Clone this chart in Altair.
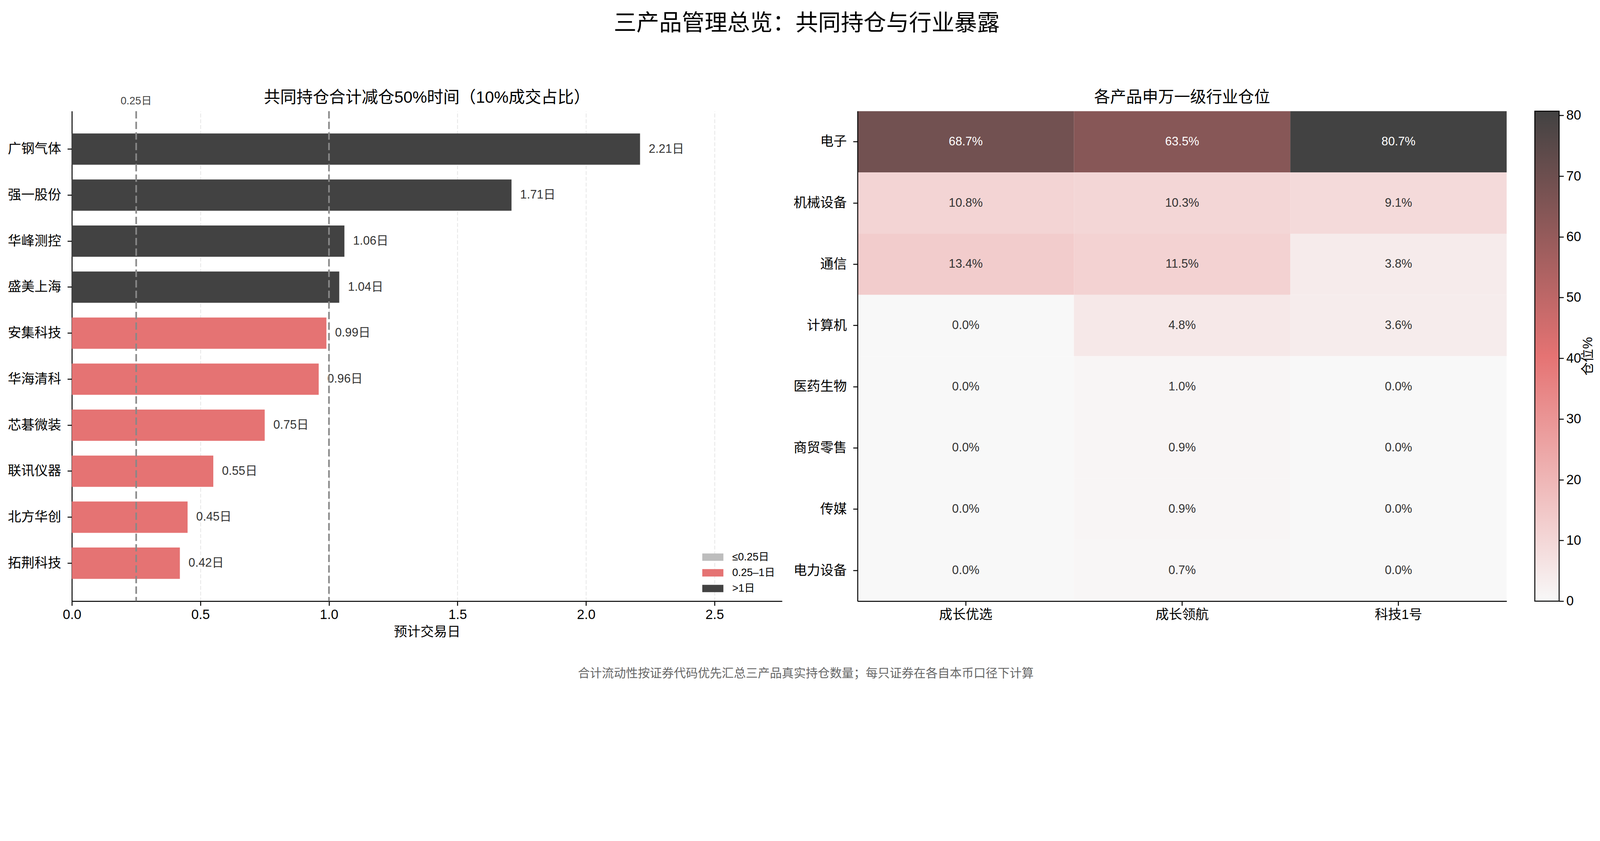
import pandas as pd
import altair as alt

FONT = "Liberation Sans, Noto Sans CJK SC, sans-serif"

# --- left panel: days needed to cut joint holdings by 50% ---
stocks = ["广钢气体", "强一股份", "华峰测控", "盛美上海", "安集科技",
          "华海清科", "芯碁微装", "联讯仪器", "北方华创", "拓荆科技"]
days = [2.21, 1.71, 1.06, 1.04, 0.99, 0.96, 0.75, 0.55, 0.45, 0.42]
ref_lines = [0.25, 1.0]
x_ticks = [0.0, 0.5, 1.0, 1.5, 2.0, 2.5]
buckets = ["≤0.25日", "0.25–1日", ">1日"]
bucket_colors = ["#bdbdbd", "#e57373", "#424242"]

# --- right panel: SW level-1 industry weights (%) ---
industries = ["电子", "机械设备", "通信", "计算机", "医药生物", "商贸零售", "传媒", "电力设备"]
products = ["成长优选", "成长领航", "科技1号"]
growth_select = [68.7, 10.8, 13.4, 0.0, 0.0, 0.0, 0.0, 0.0]
growth_pilot = [63.5, 10.3, 11.5, 4.8, 1.0, 0.9, 0.9, 0.7]
tech_one = [80.7, 9.1, 3.8, 3.6, 0.0, 0.0, 0.0, 0.0]
cbar_ticks = [0, 10, 20, 30, 40, 50, 60, 70, 80]
cmap_colors = ["#f8f8f8", "#e57373", "#424242"]

main_title = "三产品管理总览：共同持仓与行业暴露"
left_title = "共同持仓合计减仓50%时间（10%成交占比）"
right_title = "各产品申万一级行业仓位"
cbar_label = "仓位%"
footer_text = "合计流动性按证券代码优先汇总三产品真实持仓数量；每只证券在各自本币口径下计算"


def bucket(d):
    if d <= 0.25:
        return buckets[0]
    if d <= 1:
        return buckets[1]
    return buckets[2]


def caption(text, x, y, size, color="black"):
    # free-standing text (titles / footnote), placed in pixels of the host panel
    return alt.Chart(pd.DataFrame({"t": [text]})).mark_text(
        fontSize=size, color=color, align="center", baseline="middle"
    ).encode(text="t:N", x=alt.value(x), y=alt.value(y))


liq = pd.DataFrame({"stock": stocks, "days": days})
liq["bucket"] = liq["days"].apply(bucket)
liq["label"] = liq["days"].map(lambda v: f"{v:.2f}日")

refs = pd.DataFrame({"days": ref_lines})
ref_lab = pd.DataFrame({"days": ref_lines[:1], "label": [f"{ref_lines[0]:.2f}日"]})

W_L, W_R, H = 2220, 2029, 1531
CB_W = 76
x_max = max(days) * 1.25

x_enc = alt.X("days:Q", title="预计交易日",
              scale=alt.Scale(domain=[0, x_max], nice=False),
              axis=alt.Axis(values=x_ticks, format=".1f", grid=True, gridDash=[12, 6],
                            gridColor="#e6e6e6", gridWidth=2.5, labelPadding=8, titlePadding=12,
                            labelFlush=False))
y_enc = alt.Y("stock:N", sort=stocks, title=None,
              scale=alt.Scale(paddingInner=0.32, paddingOuter=0.485),
              axis=alt.Axis(labelPadding=20, grid=False))

bars = alt.Chart(liq).mark_bar().encode(
    x=x_enc, y=y_enc,
    color=alt.Color("bucket:N", scale=alt.Scale(domain=buckets, range=bucket_colors),
                    legend=alt.Legend(title=None, orient="bottom-right", offset=22, padding=0,
                                      labelFontSize=33, labelColor="black",
                                      symbolType="M-2,-0.7H2V0.7H-2Z", symbolSize=1089,
                                      symbolStrokeWidth=0, labelOffset=44, rowPadding=15)),
)
bar_text = alt.Chart(liq).mark_text(align="left", baseline="middle", dx=27, fontSize=37.5,
                                    color="#333333").encode(x=x_enc, y=y_enc, text="label:N")
rules = alt.Chart(refs).mark_rule(color="#888888", strokeDash=[23, 10], strokeWidth=5).encode(x=x_enc)
rule_text = alt.Chart(ref_lab).mark_text(y=-31, fontSize=33, color="#444444").encode(x=x_enc, text="label:N")

left = alt.layer(
    bars, bar_text, rules, rule_text,
    caption(left_title, W_L / 2, -41, 51),
    caption(main_title, 2297, -273, 71),
    caption(footer_text, 2294, 1758, 37.5, "#666666"),
).properties(width=W_L, height=H)

# heatmap
heat = pd.DataFrame({
    "industry": industries * 3,
    "product": [p for p in products for _ in industries],
    "pct": growth_select + growth_pilot + tech_one,
})
heat["label"] = heat["pct"].map(lambda v: f"{v:.1f}%")
vmax = float(heat["pct"].max())

hx = alt.X("product:N", sort=products, title=None,
           scale=alt.Scale(paddingInner=0, paddingOuter=0),
           axis=alt.Axis(labelAngle=0, labelPadding=8))
hy = alt.Y("industry:N", sort=industries, title=None,
           scale=alt.Scale(paddingInner=0, paddingOuter=0),
           axis=alt.Axis(labelPadding=20))

cells = alt.Chart(heat).mark_rect().encode(
    x=hx, y=hy,
    color=alt.Color("pct:Q",
                    scale=alt.Scale(domain=[0, vmax / 2, vmax], range=cmap_colors, interpolate="rgb"),
                    legend=None),
)
cell_text = alt.Chart(heat).mark_text(fontSize=37.5).encode(
    x=hx, y=hy, text="label:N",
    color=alt.condition(alt.datum.pct > vmax / 2, alt.value("white"), alt.value("#333333")),
)
right = alt.layer(cells, cell_text, caption(right_title, W_R / 2, -43, 50)).properties(width=W_R, height=H)

# colour bar: one rect spanning 0..vmax with the same colour ramp, axis on the right
cbar_df = pd.DataFrame({"lo": [0.0], "hi": [vmax]})
cbar = alt.Chart(cbar_df).mark_rect(
    fill=alt.Gradient(gradient="linear",
                      stops=[alt.GradientStop(color=cmap_colors[0], offset=0),
                             alt.GradientStop(color=cmap_colors[1], offset=0.5),
                             alt.GradientStop(color=cmap_colors[2], offset=1)],
                      x1=0, x2=0, y1=1, y2=0),
    stroke="black", strokeWidth=3,
).encode(
    x=alt.value(0), x2=alt.value(CB_W),
    y=alt.Y("lo:Q", scale=alt.Scale(domain=[0, vmax], nice=False, zero=True),
            axis=alt.Axis(orient="right", values=cbar_ticks, title=cbar_label, titleAngle=270,
                          titleBaseline="top", titlePadding=2, labelPadding=8, labelFlush=False,
                          grid=False, domain=False)),
    y2="hi:Q",
).properties(width=CB_W, height=H)

inner = alt.hconcat(right, cbar, spacing=88, bounds="flush").resolve_scale(
    color="independent", x="independent", y="independent")
chart = alt.hconcat(left, inner, spacing=236, bounds="flush").resolve_scale(
    color="independent", x="independent", y="independent"
).properties(
    # the layout keeps empty bounds above and below the drawing; trim part of it
    padding={"left": 14, "top": -166, "right": 5, "bottom": -160},
).configure(font=FONT).configure_view(stroke=None).configure_axis(
    labelFontSize=41.7, labelColor="black", tickColor="black", tickSize=14, tickWidth=3,
    domainColor="black", domainWidth=3, titleFontSize=41.7, titleFontWeight="normal",
    titleColor="black",
)

chart.save("out.html", embed_options={"renderer": "svg", "actions": False})
